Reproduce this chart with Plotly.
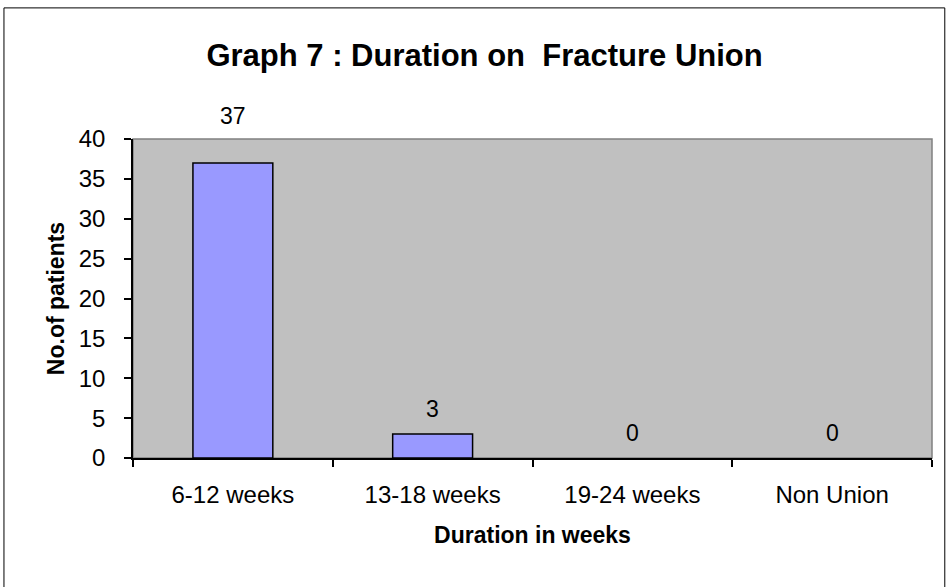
import plotly.graph_objects as go

categories = ["6-12 weeks", "13-18 weeks", "19-24 weeks", "Non Union"]
patients = [37, 3, 0, 0]
y_ticks = [0, 5, 10, 15, 20, 25, 30, 35, 40]

FONT = "Liberation Sans, Arial, sans-serif"

fig = go.Figure()
fig.add_trace(go.Bar(
    x=categories,
    y=patients,
    width=0.4,
    marker=dict(
        color="#9999FF",
        line=dict(color="#000000", width=[1.5 if v > 0 else 0 for v in patients]),
    ),
    showlegend=False,
    hoverinfo="skip",
))

top = max(patients)
for cat, val in zip(categories, patients):
    fig.add_annotation(
        x=cat, y=val, text=str(val), showarrow=False,
        yanchor="bottom", yshift=32 if val == top else 10,
        font=dict(family=FONT, size=23, color="#000000"),
    )

fig.update_layout(
    width=946,
    height=587,
    margin=dict(l=133, r=14, t=139, b=129),
    paper_bgcolor="#FFFFFF",
    plot_bgcolor="#C0C0C0",
    font=dict(family=FONT, size=22, color="#000000"),
    title=dict(
        text="<b>Graph 7 : Duration on&nbsp; Fracture Union</b>",
        x=0.44, xanchor="center", y=0.906, yanchor="middle",
        xref="paper",
        font=dict(family=FONT, size=31, color="#000000"),
    ),
    shapes=[
        dict(type="rect", xref="paper", yref="paper", x0=0, x1=1, y0=0, y1=1,
             line=dict(color="#808080", width=1.5), layer="below"),
        dict(type="rect", xref="paper", yref="paper", x0=-0.1615, x1=1.016, y0=-0.41, y1=1.411,
             line=dict(color="#000000", width=1)),
    ],
)

fig.update_xaxes(
    showgrid=False,
    showline=True, linecolor="#000000", linewidth=1.5,
    ticks="outside", ticklen=7, tickcolor="#000000", tickwidth=1.5,
    tickson="boundaries",
    ticklabelstandoff=14,
    tickfont=dict(family=FONT, size=24),
    title=dict(text="<b>Duration in weeks</b>", font=dict(family=FONT, size=23), standoff=20),
)
fig.update_yaxes(
    range=[0, 40],
    tickvals=y_ticks,
    showgrid=False, zeroline=False,
    showline=True, linecolor="#000000", linewidth=1.5,
    ticks="outside", ticklen=7, tickcolor="#000000", tickwidth=1.5,
    ticklabelstandoff=14,
    tickfont=dict(family=FONT, size=24),
    title=dict(text="<b>No.of patients</b>", font=dict(family=FONT, size=23), standoff=8),
)

fig.write_html("out.html", post_script="document.body.style.margin='0';",
               config={"displayModeBar": False})
